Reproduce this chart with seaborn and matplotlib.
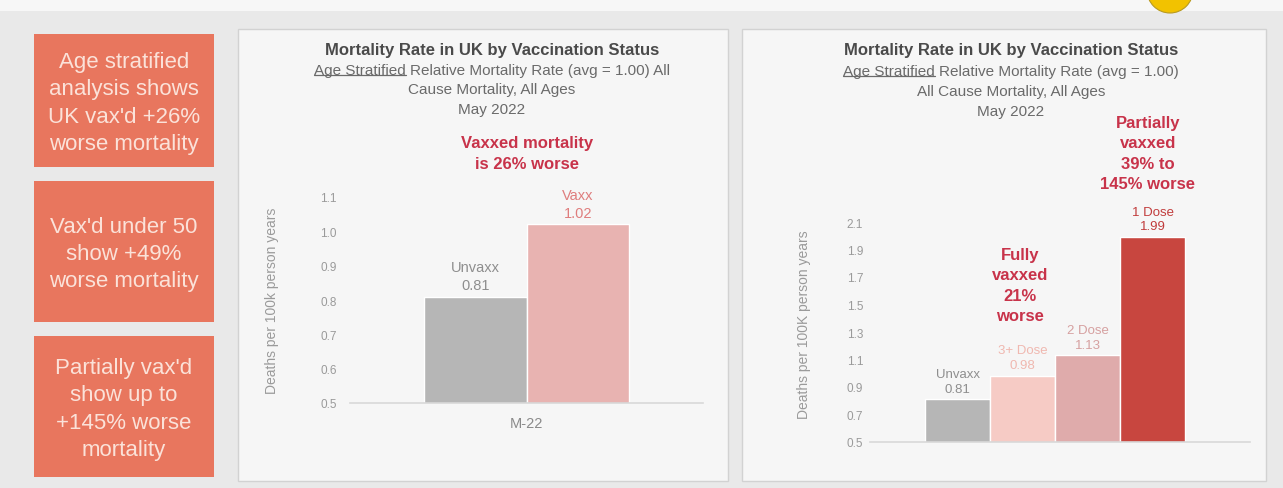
import matplotlib
matplotlib.use("Agg")
import matplotlib.pyplot as plt
import seaborn as sns
import pandas as pd
from matplotlib.patches import Rectangle, Ellipse
from matplotlib.lines import Line2D

# ---------------- data ----------------
left_period = ["M-22"]
left_status = ["Unvaxx", "Vaxx"]
left_values = [0.81, 1.02]
left_yticks = [0.5, 0.6, 0.7, 0.8, 0.9, 1.0, 1.1]

right_status = ["Unvaxx", "3+ Dose", "2 Dose", "1 Dose"]
right_values = [0.81, 0.98, 1.13, 1.99]
right_yticks = [0.5, 0.7, 0.9, 1.1, 1.3, 1.5, 1.7, 1.9, 2.1]

title = "Mortality Rate in UK by Vaccination Status"
left_sub = ["Age Stratified Relative Mortality Rate (avg = 1.00) All",
            "Cause Mortality, All Ages", "May 2022"]
right_sub = ["Age Stratified Relative Mortality Rate (avg = 1.00)",
             "All Cause Mortality, All Ages", "May 2022"]
underlined = "Age Stratified"
left_ylabel = "Deaths per 100k person years"
right_ylabel = "Deaths per 100K person years"
left_note = "Vaxxed mortality\nis 26% worse"
right_note_partial = "Partially\nvaxxed\n39% to\n145% worse"
right_note_full = "Fully\nvaxxed\n21%\nworse"
side_notes = ["Age stratified\nanalysis shows\nUK vax'd +26%\nworse mortality",
              "Vax'd under 50\nshow +49%\nworse mortality",
              "Partially vax'd\nshow up to\n+145% worse\nmortality"]

# ---------------- style ----------------
left_colors = ["#b6b6b6", "#e8b3b1"]
left_label_colors = ["#8e8e8e", "#df7d7d"]
right_colors = ["#b6b6b6", "#f6cbc5", "#dfabab", "#c8463f"]
right_label_colors = ["#8e8e8e", "#f0b8b0", "#d6a0a0", "#c13c3c"]
note_red = "#c8334a"
title_col = "#4a4a4a"
sub_col = "#6a6a6a"
tick_col = "#9a9a9a"

sns.set_theme(style="white")
plt.rcParams['font.family'] = ['Liberation Sans', 'DejaVu Sans']

W, H = 1283, 489
fig = plt.figure(figsize=(W / 100, H / 100), dpi=100, facecolor="#e9e9e9")


def fx(px):
    return px / W


def fy(py):
    return 1 - py / H


def rect(x0, y0, x1, y1, **kw):
    fig.patches.append(Rectangle((fx(x0), fy(y1)), (x1 - x0) / W, (y1 - y0) / H,
                                 transform=fig.transFigure, zorder=-10, **kw))


# top light strip
rect(0, 0, W, 12, facecolor="#f7f7f7", edgecolor="none")

# panels
rect(238, 30, 728, 482, facecolor="#f6f6f6", edgecolor="#d2d2d2", lw=1)
rect(742, 30, 1266, 482, facecolor="#f6f6f6", edgecolor="#d2d2d2", lw=1)

# yellow mark at top
fig.patches.append(Ellipse((fx(1170), fy(-9)), 46 / W, 46 / H,
                           transform=fig.transFigure, facecolor="#f2c200",
                           edgecolor="#b89a20", lw=0.8, zorder=-9))

# side boxes
boxes = [(34, 35, 214, 168), (34, 182, 214, 323), (34, 337, 214, 478)]
for (x0, y0, x1, y1), txt in zip(boxes, side_notes):
    rect(x0, y0, x1, y1, facecolor="#e8765e", edgecolor="none")
    fig.text(fx((x0 + x1) / 2), fy((y0 + y1) / 2 + 2), txt, ha="center",
             va="center", fontsize=16, color="#fbe2d9", linespacing=1.38)

# ---------------- left chart ----------------
ax1 = fig.add_axes([fx(350), fy(404), (703 - 350) / W, (404 - 198) / H])
ax1.set_facecolor("none")
df_left = pd.DataFrame({"period": left_period * len(left_status),
                        "status": left_status, "rate": left_values})
sns.barplot(data=df_left, x="period", y="rate", hue="status",
            hue_order=left_status, palette=left_colors, width=0.58, gap=0,
            saturation=1, legend=False, ax=ax1)
ax1.set_ylim(0.5, 1.1)
ax1.set_yticks(left_yticks)
ax1.set_yticklabels([f"{v:.1f}" for v in left_yticks])
for i, cont in enumerate(ax1.containers):
    ax1.bar_label(cont, labels=[f"{left_status[i]}\n{v:.2f}" for v in cont.datavalues],
                  padding=3.5, fontsize=10.5, color=left_label_colors[i],
                  linespacing=1.3)
ax1.set_xlabel("")
ax1.set_ylabel(left_ylabel, fontsize=10, color="#9a9a9a")
ax1.yaxis.set_label_coords(-0.2, 0.5)
ax1.tick_params(axis="y", length=0, labelsize=8.5, labelcolor=tick_col, pad=9.5)
ax1.tick_params(axis="x", length=0, labelsize=10.5, labelcolor="#8a8a8a", pad=9)
for s in ["top", "right", "left"]:
    ax1.spines[s].set_visible(False)
ax1.spines["bottom"].set_color("#d8d8d8")
ax1.spines["bottom"].set_linewidth(1.2)

# ---------------- right chart ----------------
ax2 = fig.add_axes([fx(870), fy(443), (1250 - 870) / W, (443 - 223) / H])
ax2.set_facecolor("none")
df_right = pd.DataFrame({"period": left_period * len(right_status),
                         "status": right_status, "rate": right_values})
sns.barplot(data=df_right, x="period", y="rate", hue="status",
            hue_order=right_status, palette=right_colors, width=0.684, gap=0,
            saturation=1, legend=False, ax=ax2)
ax2.set_xlim(-0.487, 0.513)
ax2.set_ylim(0.5, 2.1)
ax2.set_yticks(right_yticks)
ax2.set_yticklabels([f"{v:.1f}" for v in right_yticks])
ax2.set_xticks([])
for i, cont in enumerate(ax2.containers):
    ax2.bar_label(cont, labels=[f"{right_status[i]}\n{v:.2f}" for v in cont.datavalues],
                  padding=3.5, fontsize=9.5, color=right_label_colors[i],
                  linespacing=1.3)
ax2.set_xlabel("")
ax2.set_ylabel(right_ylabel, fontsize=10, color="#9a9a9a")
ax2.yaxis.set_label_coords(-0.155, 0.54)
ax2.tick_params(axis="y", length=0, labelsize=8.5, labelcolor=tick_col, pad=5)
for s in ["top", "right", "left"]:
    ax2.spines[s].set_visible(False)
ax2.spines["bottom"].set_color("#d8d8d8")
ax2.spines["bottom"].set_linewidth(1.2)

# ---------------- titles ----------------
sub_texts = []
for cx, ys, subs in [(492, [50, 71, 90, 110], left_sub),
                     (1011, [51, 72, 92, 112], right_sub)]:
    fig.text(fx(cx), fy(ys[0]), title, ha="center", va="center",
             fontsize=12, fontweight="bold", color=title_col)
    for j, line in enumerate(subs):
        t = fig.text(fx(cx), fy(ys[j + 1]), line, ha="center", va="center",
                     fontsize=11, color=sub_col)
        if j == 0:
            sub_texts.append(t)

# annotations
fig.text(fx(527), fy(154), left_note, ha="center", va="center", fontsize=12,
         fontweight="bold", color=note_red, linespacing=1.45)
fig.text(fx(1148), fy(154), right_note_partial, ha="center", va="center",
         fontsize=12, fontweight="bold", color=note_red, linespacing=1.45)
fig.text(fx(1020), fy(286), right_note_full, ha="center", va="center",
         fontsize=12, fontweight="bold", color=note_red, linespacing=1.45)

# underline "Age Stratified"
fig.canvas.draw()
r = fig.canvas.get_renderer()
for t in sub_texts:
    bb = t.get_window_extent(r)
    tmp = fig.text(0, 0, underlined, fontsize=11)
    w = tmp.get_window_extent(r).width
    tmp.remove()
    yline = (bb.y0 + 2.5) / H
    fig.lines.append(Line2D([bb.x0 / W, (bb.x0 + w) / W], [yline, yline],
                            transform=fig.transFigure, color=sub_col, lw=0.9))

fig.savefig("out.png", dpi=100, facecolor=fig.get_facecolor())
